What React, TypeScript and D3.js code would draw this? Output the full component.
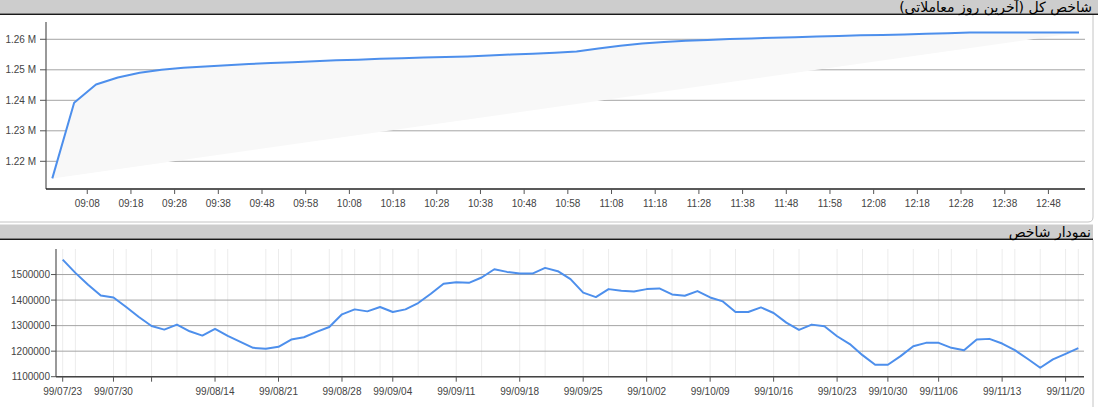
import React from 'react';
import * as d3 from 'd3';

// شاخص کل - روز آخر (هر ۵ دقیقه)
const intradayTimes = [
  '09:00', '09:05', '09:10', '09:15', '09:20', '09:25', '09:30', '09:35', '09:40', '09:45', '09:50', '09:55',
  '10:00', '10:05', '10:10', '10:15', '10:20', '10:25', '10:30', '10:35', '10:40', '10:45', '10:50', '10:55',
  '11:00', '11:05', '11:10', '11:15', '11:20', '11:25', '11:30', '11:35', '11:40', '11:45', '11:50', '11:55',
  '12:00', '12:05', '12:10', '12:15', '12:20', '12:25', '12:30', '12:35', '12:40', '12:45', '12:50', '12:55'
];
const intradayIndex = [
  1214400, 1239200, 1245200, 1247500, 1249000, 1250000, 1250700, 1251100, 1251500, 1251900, 1252200, 1252500,
  1252800, 1253100, 1253300, 1253600, 1253800, 1254000, 1254200, 1254400, 1254700, 1255000, 1255300, 1255600,
  1256000, 1257000, 1257900, 1258600, 1259100, 1259500, 1259800, 1260100, 1260300, 1260500, 1260700, 1260900,
  1261100, 1261300, 1261400, 1261600, 1261800, 1262000, 1262200, 1262200, 1262200, 1262200, 1262200, 1262200
];
const intradayTicks = [
  '09:08', '09:18', '09:28', '09:38', '09:48', '09:58', '10:08', '10:18', '10:28', '10:38', '10:48', '10:58',
  '11:08', '11:18', '11:28', '11:38', '11:48', '11:58', '12:08', '12:18', '12:28', '12:38', '12:48'
];
const intradayLevels = [1220000, 1230000, 1240000, 1250000, 1260000];

// نمودار شاخص - روزانه
const tradeDates = [
  '99/07/23', '99/07/27', '99/07/28', '99/07/29', '99/07/30', '99/08/03', '99/08/04', '99/08/07', '99/08/10',
  '99/08/11', '99/08/12', '99/08/13', '99/08/14', '99/08/17', '99/08/18', '99/08/19', '99/08/20', '99/08/21',
  '99/08/24', '99/08/25', '99/08/26', '99/08/27', '99/08/28', '99/09/01', '99/09/02', '99/09/03', '99/09/04',
  '99/09/07', '99/09/08', '99/09/09', '99/09/10', '99/09/11', '99/09/14', '99/09/15', '99/09/16', '99/09/17',
  '99/09/18', '99/09/21', '99/09/22', '99/09/23', '99/09/24', '99/09/25', '99/09/28', '99/09/29', '99/09/30',
  '99/10/01', '99/10/02', '99/10/05', '99/10/06', '99/10/07', '99/10/08', '99/10/09', '99/10/12', '99/10/13',
  '99/10/14', '99/10/15', '99/10/16', '99/10/19', '99/10/20', '99/10/21', '99/10/22', '99/10/23', '99/10/27',
  '99/10/28', '99/10/29', '99/10/30', '99/11/03', '99/11/04', '99/11/05', '99/11/06', '99/11/09', '99/11/10',
  '99/11/11', '99/11/12', '99/11/13', '99/11/16', '99/11/17', '99/11/18', '99/11/19', '99/11/20', '99/11/23'
];
const indexCloses = [
  1558400, 1506500, 1459700, 1418200, 1410400, 1372700, 1333800, 1298700, 1284400,
  1303900, 1277900, 1261000, 1287000, 1259700, 1236400, 1213000, 1209100, 1216900,
  1245500, 1254500, 1275300, 1294800, 1344200, 1363600, 1355800, 1372700, 1353200,
  1363600, 1388300, 1424700, 1463600, 1470100, 1467500, 1488300, 1520800, 1510400,
  1503900, 1503900, 1526000, 1513000, 1481800, 1429000, 1411700, 1442900, 1436400,
  1433800, 1442900, 1445500, 1422100, 1416900, 1435100, 1410400, 1394800, 1353200,
  1353200, 1371400, 1349400, 1311700, 1283100, 1303900, 1297400, 1258400, 1227800,
  1184400, 1146800, 1146800, 1180500, 1219500, 1232500, 1232500, 1213000, 1203900,
  1245500, 1248100, 1229900, 1203900, 1170100, 1135100, 1167500, 1189600, 1211700
];
const dateLabels = [
  '99/07/23', '99/07/30', '99/08/14', '99/08/21', '99/08/28', '99/09/04', '99/09/11', '99/09/18', '99/09/25',
  '99/10/02', '99/10/09', '99/10/16', '99/10/23', '99/10/30', '99/11/06', '99/11/13', '99/11/20'
];
const blankTicks = ['99/08/07'];
const dateGrid = [
  '99/07/23', '99/07/27', '99/07/30', '99/08/03', '99/08/07', '99/08/11', '99/08/14', '99/08/17', '99/08/20',
  '99/08/21', '99/08/24', '99/08/27', '99/08/28', '99/09/01', '99/09/03', '99/09/04', '99/09/08', '99/09/11',
  '99/09/15', '99/09/18', '99/09/22', '99/09/25', '99/09/29', '99/10/02', '99/10/06', '99/10/09', '99/10/13',
  '99/10/16', '99/10/20', '99/10/23', '99/10/28', '99/10/30', '99/11/04', '99/11/06', '99/11/09', '99/11/11',
  '99/11/13', '99/11/16', '99/11/18', '99/11/20', '99/11/23'
];
const closeLevels = [1100000, 1200000, 1300000, 1400000, 1500000];

const titles = ['شاخص کل (آخرین روز معاملاتی)', 'نمودار شاخص'];

const W = 1098;
const H = 407;
const LINE = '#4d8fec';
const AXIS_FONT = 'Arial, "Liberation Sans", sans-serif';
const TITLE_FONT = 'Tahoma, "DejaVu Sans", sans-serif';

const parseTime = d3.timeParse('%H:%M');

export default function App() {
  React.useEffect(() => {
    document.body.style.margin = '0';
  }, []);

  // --- نمودار بالا
  const t = { left: 46, right: 1085, top: 22, bottom: 189 };
  const times = intradayTimes.map(s => parseTime(s) as Date);
  const x1 = d3.scaleTime()
    .domain([times[0], times[times.length - 1]])
    .range([52.3, 1079]);
  const y1 = d3.scaleLinear().domain([1210920, 1265670]).range([t.bottom, t.top]);
  const pts1: [number, number][] = times.map((d, i) => [x1(d), y1(intradayIndex[i])]);
  const line1 = d3.line();
  const path1 = line1(pts1) || '';

  // --- نمودار پایین
  const b = { left: 56, right: 1084, top: 249, bottom: 376.7 };
  const x2 = d3.scalePoint<string>().domain(tradeDates).range([62.7, 1078.3]);
  const y2 = d3.scaleLinear().domain([1100000, 1600000]).range([b.bottom, b.top]);
  const line2 = d3.line<number>()
    .x((_, i) => x2(tradeDates[i]) as number)
    .y(d => y2(d));
  const path2 = line2(indexCloses) || '';

  const fmtM = (v: number) => d3.format('.2f')(v / 1e6) + ' M';

  return (
    <svg width={W} height={H} style={{ display: 'block' }}>
      <rect width={W} height={H} fill="#fff" />

      {/* سربرگ بالا */}
      <rect x={0} y={0} width={W} height={13.5} fill="#cdcdcd" />
      <line x1={0} x2={W} y1={14.2} y2={14.2} stroke="#1a1a1a" strokeWidth={1.6} />
      <text x={1092} y={11.5} fontFamily={TITLE_FONT} fontSize={14} fill="#000"
        textAnchor="start" style={{ direction: 'rtl' }}>{titles[0]}</text>
      <path d="M0,222 H1088 Q1093,222 1093,217 V15" fill="none" stroke="#c4c4c4" strokeWidth={1} />

      {/* شبکه و محورهای نمودار بالا */}
      {intradayLevels.map(v => (
        <g key={v}>
          <line x1={t.left} x2={t.right} y1={y1(v)} y2={y1(v)} stroke="#a4a4a4" strokeWidth={1} />
          <line x1={t.left - 6} x2={t.left} y1={y1(v)} y2={y1(v)} stroke="#555" strokeWidth={1} />
          <text x={t.left - 10} y={y1(v)} dy="0.35em" textAnchor="end" fontFamily={AXIS_FONT}
            fontSize={10} fill="#444">{fmtM(v)}</text>
        </g>
      ))}
      <path d={path1 + 'Z'} fill="#f8f8f8" stroke="none" />
      <line x1={t.left} x2={t.left} y1={t.top} y2={t.bottom} stroke="#555" strokeWidth={1.2} />
      <line x1={t.left} x2={t.right} y1={t.bottom} y2={t.bottom} stroke="#222" strokeWidth={1.5} />
      {intradayTicks.map(s => {
        const xx = x1(parseTime(s) as Date);
        return (
          <g key={s}>
            <line x1={xx} x2={xx} y1={t.bottom} y2={t.bottom + 5} stroke="#555" strokeWidth={1} />
            <text x={xx} y={t.bottom + 18} textAnchor="middle" fontFamily={AXIS_FONT} fontSize={10}
              fill="#444">{s}</text>
          </g>
        );
      })}
      <path d={path1} fill="none" stroke={LINE} strokeWidth={2} strokeLinejoin="round" />

      {/* سربرگ پایین */}
      <rect x={0} y={224.5} width={1093} height={14} fill="#cdcdcd" />
      <line x1={0} x2={1093} y1={239.2} y2={239.2} stroke="#1a1a1a" strokeWidth={1.6} />
      <text x={1091} y={236.5} fontFamily={TITLE_FONT} fontSize={14} fill="#000"
        textAnchor="start" style={{ direction: 'rtl' }}>{titles[1]}</text>
      <line x1={1093} x2={1093} y1={240} y2={H} stroke="#c4c4c4" strokeWidth={1} />

      {/* شبکه و محورهای نمودار پایین */}
      {dateGrid.map(d => (
        <line key={d} x1={x2(d)} x2={x2(d)} y1={b.top} y2={b.bottom} stroke="#ececec" strokeWidth={1} />
      ))}
      {closeLevels.map(v => (
        <g key={v}>
          <line x1={b.left} x2={b.right} y1={y2(v)} y2={y2(v)} stroke="#a4a4a4" strokeWidth={1} />
          <line x1={b.left - 5} x2={b.left} y1={y2(v)} y2={y2(v)} stroke="#555" strokeWidth={1} />
          <text x={b.left - 6} y={y2(v)} dy="0.35em" textAnchor="end" fontFamily={AXIS_FONT}
            fontSize={10} fill="#444">{v}</text>
        </g>
      ))}
      <line x1={b.left} x2={b.left} y1={b.top} y2={b.bottom} stroke="#555" strokeWidth={1.2} />
      <line x1={b.left} x2={b.right} y1={b.bottom} y2={b.bottom} stroke="#444" strokeWidth={1.5} />
      {dateLabels.concat(blankTicks).map(d => {
        const xx = x2(d) as number;
        return (
          <g key={d}>
            <line x1={xx} x2={xx} y1={b.bottom} y2={b.bottom + 5} stroke="#555" strokeWidth={1} />
            {dateLabels.includes(d) && (
              <text x={xx} y={b.bottom + 18} textAnchor="middle" fontFamily={AXIS_FONT} fontSize={10}
                fill="#444">{d}</text>
            )}
          </g>
        );
      })}
      <path d={path2} fill="none" stroke={LINE} strokeWidth={2} strokeLinejoin="round" />
    </svg>
  );
}
